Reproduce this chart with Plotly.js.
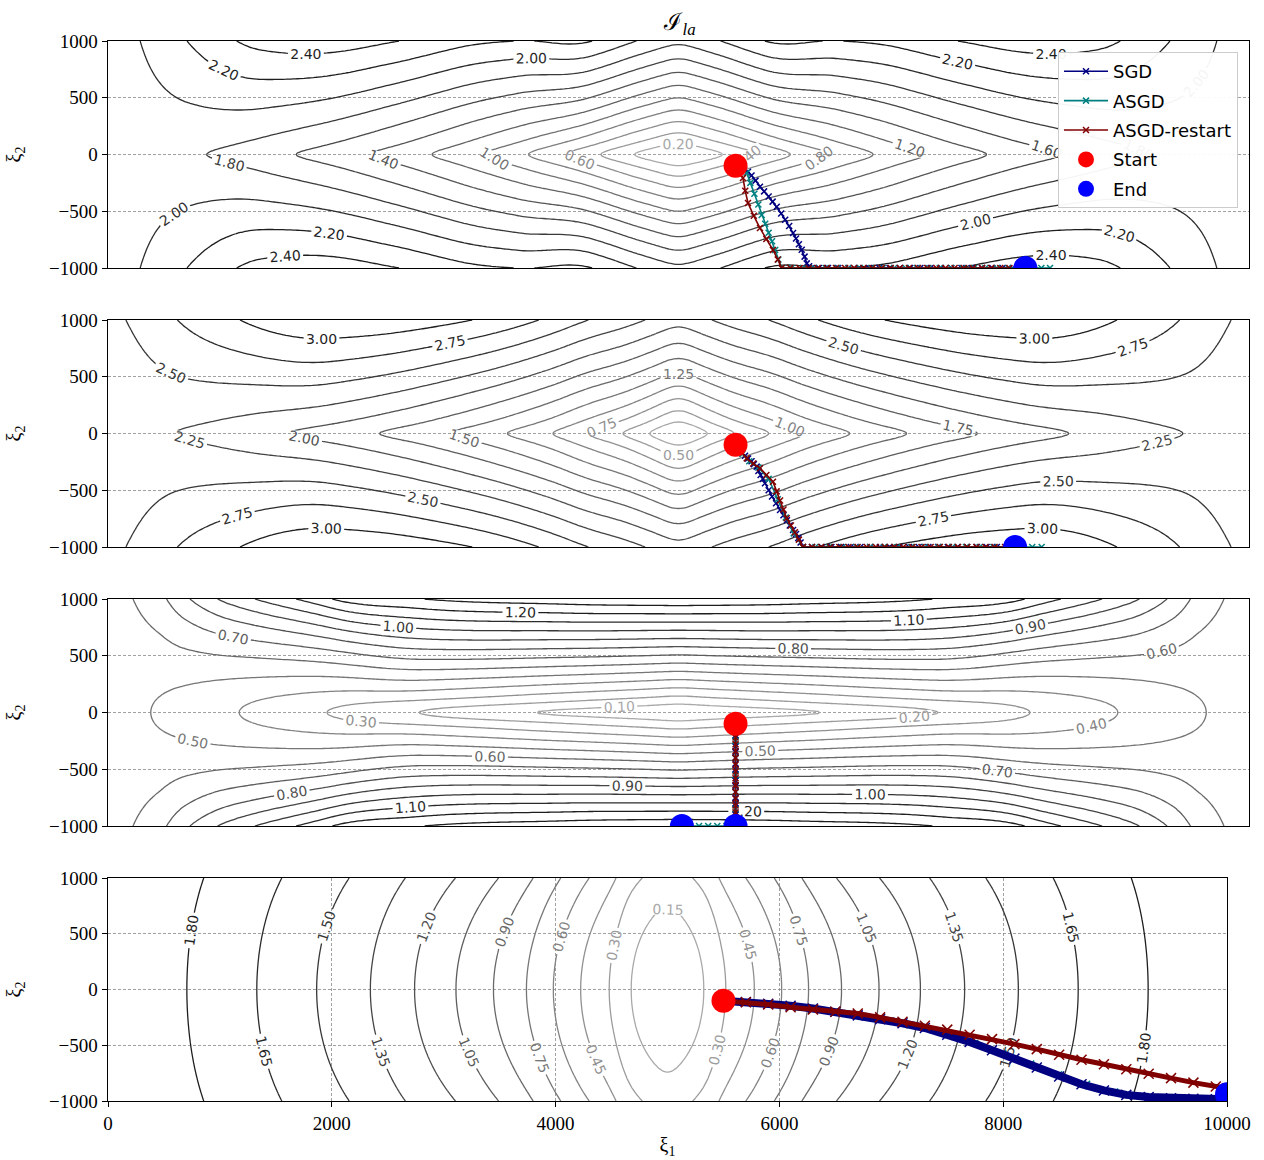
<!DOCTYPE html>
<html>
<head>
<meta charset="utf-8">
<script src="https://cdn.plot.ly/plotly-3.0.1.min.js"></script>
<style>
  html, body { margin: 0; padding: 0; background: #ffffff; }
  #chart { width: 1264px; height: 1160px; }
</style>
</head>
<body>
<div id="chart"></div>
<script>
// ---------------------------------------------------------------------------
// Loss-surface profiles (u = |xi1 - 5000| / 5000, v = |xi2| / 1000)
// ---------------------------------------------------------------------------

// Panel 1: level along xi2 = 0, and slope / curvature across xi2
const p1U  = [0, 0.076, 0.136, 0.196, 0.263, 0.341, 0.432, 0.54, 0.67, 0.827, 1];
const p1A  = [0, 0.2, 0.4, 0.6, 0.8, 1.0, 1.2, 1.4, 1.6, 1.8, 1.93];
const p1SU = [0, 0.15, 0.28, 0.38, 0.5, 0.6, 0.73, 0.855, 0.956, 1];
const p1B  = [2.16, 2.0, 1.45, 1.2, 1.08, 1.0, 0.78, 0.39, 0.08, 0];
const p1C  = [0.31, 0.25, 0.1, 0.03, 0, 0, 0, 0, 0, 0];

// Panel 2
const p2U  = [0, 0.047, 0.097, 0.158, 0.22, 0.30, 0.40, 0.524, 0.684, 0.884, 1];
const p2A  = [0, 0.25, 0.5, 0.75, 1.0, 1.25, 1.5, 1.75, 2.0, 2.25, 2.35];
const p2SU = [0, 0.1, 0.2, 0.35, 0.5, 0.61, 0.75, 0.88, 0.96, 1];
const p2B  = [2.6, 2.2, 1.85, 1.65, 1.55, 1.45, 0.95, 0.5, 0.2, 0.1];
const p2C  = [0.5, 0.35, 0.15, 0.05, 0.1, 0.15, 0, 0, 0, 0];

// Panel 3
const p3U  = [0, 0.25, 0.455, 0.616, 0.77, 0.925, 1];
const p3A  = [0, 0.1, 0.2, 0.3, 0.4, 0.5, 0.54];
const p3SU = [0, 0.2, 0.45, 0.605, 0.68, 0.78, 0.868, 0.914, 1];
const p3B  = [1.38, 1.28, 1.05, 0.55, 0.4, 0.25, 0.15, 0.1, 0];
const p3D  = [0, 0, 0.05, 0.36, 0.345, 0.29, 0.16, 0.07, 0];

// Panel 4
const p4U  = [0, 0.06, 0.103, 0.155, 0.204, 0.252, 0.311, 0.378, 0.452, 0.531, 0.627, 0.734, 0.859, 1];
const p4A  = [0.04, 0.15, 0.30, 0.45, 0.60, 0.75, 0.90, 1.05, 1.20, 1.35, 1.50, 1.65, 1.80, 1.92];
const p4SU = [0, 0.2, 0.56, 0.69, 0.84, 1];
const p4C  = [0.2, 0.19, 0.09, 0.06, 0.03, 0];

// Contour levels [start, end, step]
const levels1 = [0.2, 2.4, 0.2];
const levels2 = [0.25, 3.0, 0.25];
const levels3 = [0.1, 1.3, 0.1];
const levels4 = [0.15, 1.8, 0.15];

// ---------------------------------------------------------------------------
// Optimiser iterates (xi1, xi2)
// ---------------------------------------------------------------------------
const startX = [5500];
const startY = [-100];

// Panel 1
const p1SgdX = [5500,5540,5575,5609,5640,5675,5714,5750,5790,5825,5861,5900,5935,5970,6004,6030,6055,6080,6105,6124,6145,6167,
                6230,6310,6400,6490,6580,6670,6760,6850,6940,7030,7120,7210,7300,7390,7480,7570,7660,7750,7840,7930,8040];
const p1SgdY = [-100,-120,-135,-152,-185,-230,-284,-325,-370,-415,-460,-520,-575,-630,-692,-740,-790,-840,-900,-959,-985,-1000,
                -1000,-1000,-1000,-1000,-1000,-1000,-1000,-1000,-1000,-1000,-1000,-1000,-1000,-1000,-1000,-1000,-1000,-1000,-1000,-1000,-1000];
const p1AsgdX = [5500,5545,5598,5630,5665,5700,5729,5760,5790,5820,5847,5875,5904,
                 5990,6090,6190,6290,6390,6490,6590,6690,6790,6890,6990,7090,7190,7290,7390,7490,7590,7690,7790,7890,7990,8090,8180,8256];
const p1AsgdY = [-100,-130,-163,-250,-345,-440,-533,-610,-690,-765,-841,-925,-1000,
                 -1000,-1000,-1000,-1000,-1000,-1000,-1000,-1000,-1000,-1000,-1000,-1000,-1000,-1000,-1000,-1000,-1000,-1000,-1000,-1000,-1000,-1000,-1000,-1000];
const p1RstX = [5500,5530,5565,5585,5609,5660,5714,5770,5828,5870,5904,
                5980,6060,6140,6220,6300,6380,6460,6540,6620,6700,6780,6860,6940,7020,7100,7180,7260,7340,7420,7500,7580,7660,7740,7820,7900];
const p1RstY = [-100,-150,-207,-320,-427,-540,-648,-745,-841,-925,-1000,
                -1000,-1000,-1000,-1000,-1000,-1000,-1000,-1000,-1000,-1000,-1000,-1000,-1000,-1000,-1000,-1000,-1000,-1000,-1000,-1000,-1000,-1000,-1000,-1000,-1000];
const p1EndX = [8040];
const p1EndY = [-1000];

// Panel 2
const p2SgdX = [5500,5540,5583,5610,5640,5660,5685,5700,5720,5740,5758,5790,5820,5855,5890,5920,5950,5975,6004,6030,6050,6070,6091,
                6170,6255,6340,6425,6510,6595,6680,6765,6850,6935,7020,7105,7190,7275,7360,7445,7530,7615,7700,7790,7876];
const p2SgdY = [-100,-150,-196,-220,-245,-270,-292,-330,-365,-400,-439,-500,-555,-615,-674,-720,-765,-810,-850,-885,-920,-960,-1000,
                -1000,-1000,-1000,-1000,-1000,-1000,-1000,-1000,-1000,-1000,-1000,-1000,-1000,-1000,-1000,-1000,-1000,-1000,-1000,-1000,-1000];
const p2AsgdX = [5500,5560,5620,5700,5790,5870,5940,6010,6091,
                 6200,6320,6440,6560,6680,6800,6920,7040,7160,7280,7400,7520,7640,7760,7880,8000,8100,8183];
const p2AsgdY = [-100,-180,-245,-300,-400,-580,-740,-880,-1000,
                 -1000,-1000,-1000,-1000,-1000,-1000,-1000,-1000,-1000,-1000,-1000,-1000,-1000,-1000,-1000,-1000,-1000,-1000];
const p2RstX = [5500,5550,5598,5655,5714,5770,5828,5860,5890,5920,5948,5985,6020,6055,6091,
                6170,6250,6330,6410,6490,6570,6650,6730,6810,6890,6970,7050,7130,7210,7290,7370,7450,7530,7610,7690,7770,7862];
const p2RstY = [-100,-165,-219,-265,-307,-365,-425,-510,-590,-670,-747,-810,-870,-935,-1000,
                -1000,-1000,-1000,-1000,-1000,-1000,-1000,-1000,-1000,-1000,-1000,-1000,-1000,-1000,-1000,-1000,-1000,-1000,-1000,-1000,-1000,-1000];
const p2EndX = [7950];
const p2EndY = [-1000];

// Panel 3
const p3SgdX = [5500,5500,5500,5500,5500,5500,5500,5500,5500,5500,5500,5500,5500,5500,5500,5500,5500,5500,5500];
const p3SgdY = [-100,-150,-200,-250,-300,-350,-400,-450,-500,-550,-600,-650,-700,-750,-800,-850,-900,-950,-1000];
const p3AsgdX = [5500,5500,5500,5500,5500,5500,5500,5420,5340,5260,5180,5100,5030];
const p3AsgdY = [-100,-250,-400,-550,-700,-850,-1000,-1000,-1000,-1000,-1000,-1000,-1000];
const p3RstX = [5500,5500,5500,5500,5500,5500,5500,5500,5500,5500,5500,5500,5500,5500,5500,5500];
const p3RstY = [-100,-160,-220,-280,-340,-400,-460,-520,-580,-640,-700,-760,-820,-880,-940,-1000];
const p3EndX = [5030, 5500];
const p3EndY = [-1000, -1000];

// Panel 4
const p4SgdX = [5500,5700,5900,6100,6300,6500,6700,6900,7100,7300,7500,7700,7900,8100,8300,8500,8700,8900,9100,9300,9500,9700,9900,10000];
const p4SgdY = [-100,-112,-128,-146,-170,-200,-232,-266,-303,-345,-405,-470,-545,-620,-700,-780,-850,-905,-945,-965,-975,-980,-985,-985];
const p4AsgdX = [5500,5750,6000,6250,6500,6750,7000,7250,7500,7750,8000,8250,8500,8750,9000,9250,9500,9750,10000];
const p4AsgdY = [-100,-116,-135,-162,-198,-236,-278,-322,-396,-480,-570,-665,-760,-845,-915,-955,-972,-980,-985];
const p4RstX = [5500,5700,5900,6100,6300,6500,6700,6900,7100,7300,7500,7700,7900,8100,8300,8500,8700,8900,9100,9300,9500,9700,9900,10000];
const p4RstY = [-100,-115,-135,-160,-180,-200,-215,-250,-290,-325,-360,-405,-445,-490,-535,-585,-630,-670,-715,-755,-795,-835,-870,-885];
const p4EndX = [10000];
const p4EndY = [-940];

// ---------------------------------------------------------------------------
// Helpers
// ---------------------------------------------------------------------------
function pchip(xs, ys) {
  const n = xs.length, h = [], d = [], m = new Array(n);
  for (let i = 0; i < n - 1; i++) { h[i] = xs[i + 1] - xs[i]; d[i] = (ys[i + 1] - ys[i]) / h[i]; }
  m[0] = d[0]; m[n - 1] = d[n - 2];
  for (let i = 1; i < n - 1; i++) {
    if (d[i - 1] * d[i] <= 0) { m[i] = 0; }
    else {
      const w1 = 2 * h[i] + h[i - 1], w2 = h[i] + 2 * h[i - 1];
      m[i] = (w1 + w2) / (w1 / d[i - 1] + w2 / d[i]);
    }
  }
  return function (x) {
    if (x <= xs[0]) return ys[0];
    if (x >= xs[n - 1]) return ys[n - 1];
    let i = 0;
    while (x > xs[i + 1]) i++;
    const t = (x - xs[i]) / h[i], t2 = t * t, t3 = t2 * t;
    return (2 * t3 - 3 * t2 + 1) * ys[i] + (t3 - 2 * t2 + t) * h[i] * m[i] +
           (-2 * t3 + 3 * t2) * ys[i + 1] + (t3 - t2) * h[i] * m[i + 1];
  };
}
// |t| with a rounded bottom of half-width e
function smoothAbs(t, e) { const a = Math.abs(t); return a * Math.tanh(a / e); }

const gridX = [], gridY = [];
for (let i = 0; i <= 250; i++) gridX.push(i * 40);
for (let j = 0; j <= 125; j++) gridY.push(-1000 + j * 16);

// ev may depend on the distance from the centre column
function surface(fn, eu, ev) {
  return gridY.map(y => gridX.map(x => {
    const ua = Math.abs((x - 5000) / 5000);
    const e = (typeof ev === 'function') ? ev(ua) : ev;
    return fn(smoothAbs(ua, eu), smoothAbs(y / 1000, e));
  }));
}

const f1A = pchip(p1U, p1A), f1B = pchip(p1SU, p1B), f1C = pchip(p1SU, p1C);
const f2A = pchip(p2U, p2A), f2B = pchip(p2SU, p2B), f2C = pchip(p2SU, p2C);
const f3A = pchip(p3U, p3A), f3B = pchip(p3SU, p3B), f3D = pchip(p3SU, p3D);
const f4A = pchip(p4U, p4A), f4C = pchip(p4SU, p4C);

const z1 = surface((u, v) => f1A(u) + f1B(u) * v - f1C(u) * v * v, 0.03, 0.05);
const z2 = surface((u, v) => f2A(u) + f2B(u) * v - f2C(u) * v * v, 0.03, 0.05);
const z3 = surface((u, v) => f3A(u) + f3B(u) * v + f3D(u) * v * v, 0.03, ua => 0.03 + 0.22 * ua * ua);
const z4 = surface((u, v) => f4A(u) + f4C(u) * v * v, 0.04, 0.05);

const GRAYS = [[0, '#a9a9a9'], [0.45, '#6a6a6a'], [1, '#1e1e1e']];
function contourTrace(z, lv, ax) {
  return {
    type: 'contour', x: gridX, y: gridY, z: z,
    xaxis: 'x' + ax, yaxis: 'y' + ax,
    autocontour: false, showscale: false, hoverinfo: 'skip',
    zauto: false, zmin: lv[0], zmax: lv[1],
    colorscale: GRAYS,
    contours: {
      start: lv[0], end: lv[1] + 1e-6, size: lv[2], coloring: 'lines',
      showlabels: true, labelformat: '.2f',
      labelfont: { family: 'DejaVu Sans', size: 14 }
    },
    line: { width: 1.3, smoothing: 1 }
  };
}

const C_SGD = '#000080', C_ASGD = '#008080', C_RST = '#800000';
function pathTrace(x, y, color, name, ax, legend, lw, ms) {
  return {
    type: 'scatter', mode: 'lines+markers', x: x, y: y, name: name,
    xaxis: 'x' + ax, yaxis: 'y' + ax, showlegend: legend, legendgroup: name,
    line: { color: color, width: lw || 1.6 },
    marker: { symbol: 'x-thin', size: ms || 6, color: color, line: { color: color, width: 1.5 } },
    hoverinfo: 'skip'
  };
}
function dotTrace(x, y, color, name, ax, legend) {
  return {
    type: 'scatter', mode: 'markers', x: x, y: y, name: name,
    xaxis: 'x' + ax, yaxis: 'y' + ax, showlegend: legend, legendgroup: name,
    marker: { size: 24, color: color }, hoverinfo: 'skip'
  };
}

const traces = [
  contourTrace(z1, levels1, ''),
  contourTrace(z2, levels2, '2'),
  contourTrace(z3, levels3, '3'),
  contourTrace(z4, levels4, '4'),

  pathTrace(p1SgdX, p1SgdY, C_SGD, 'SGD', '', true),
  pathTrace(p1AsgdX, p1AsgdY, C_ASGD, 'ASGD', '', true),
  pathTrace(p1RstX, p1RstY, C_RST, 'ASGD-restart', '', true),
  dotTrace(startX, startY, '#ff0000', 'Start', '', true),
  dotTrace(p1EndX, p1EndY, '#0000ff', 'End', '', true),

  pathTrace(p2SgdX, p2SgdY, C_SGD, 'SGD', '2', false),
  pathTrace(p2AsgdX, p2AsgdY, C_ASGD, 'ASGD', '2', false),
  pathTrace(p2RstX, p2RstY, C_RST, 'ASGD-restart', '2', false),
  dotTrace(startX, startY, '#ff0000', 'Start', '2', false),
  dotTrace(p2EndX, p2EndY, '#0000ff', 'End', '2', false),

  pathTrace(p3SgdX, p3SgdY, C_SGD, 'SGD', '3', false),
  pathTrace(p3AsgdX, p3AsgdY, C_ASGD, 'ASGD', '3', false),
  pathTrace(p3RstX, p3RstY, C_RST, 'ASGD-restart', '3', false),
  dotTrace(startX, startY, '#ff0000', 'Start', '3', false),
  dotTrace(p3EndX, p3EndY, '#0000ff', 'End', '3', false),

  // in the last panel the ASGD path runs underneath the SGD band
  pathTrace(p4AsgdX, p4AsgdY, C_ASGD, 'ASGD', '4', false, 2, 6),
  pathTrace(p4SgdX, p4SgdY, C_SGD, 'SGD', '4', false, 8, 10),
  pathTrace(p4RstX, p4RstY, C_RST, 'ASGD-restart', '4', false, 5, 10),
  dotTrace(startX, startY, '#ff0000', 'Start', '4', false),
  dotTrace(p4EndX, p4EndY, '#0000ff', 'End', '4', false)
];

// ---------------------------------------------------------------------------
// Layout
// ---------------------------------------------------------------------------
const W = 1264, H = 1160;
const SERIF = 'Liberation Serif, DejaVu Serif, serif';
const tickFont = { family: SERIF, size: 19, color: '#000' };
const ySpans = [[41, 268], [320, 547], [599, 826], [878, 1101]];

function yAxis(span, anchor) {
  return {
    domain: [1 - span[1] / H, 1 - span[0] / H], anchor: anchor,
    range: [-1000, 1000], tickvals: [-1000, -500, 0, 500, 1000],
    ticks: 'outside', ticklen: 5, tickwidth: 1, tickcolor: '#000',
    tickfont: tickFont, showline: true, mirror: true, linecolor: '#000', linewidth: 1.4,
    showgrid: true, gridcolor: '#8a8a8a', gridwidth: 0.8, griddash: '3px,2px', zeroline: false,
    title: { text: 'ξ<sub>2</sub>', font: { family: SERIF, size: 20, color: '#000' }, standoff: 22 }
  };
}
function xAxis(right, anchor, labelled) {
  const ax = {
    domain: [108 / W, right / W], anchor: anchor, range: [0, 10000],
    showline: true, mirror: true, linecolor: '#000', linewidth: 1.4, zeroline: false,
    showticklabels: labelled, ticks: labelled ? 'outside' : '', showgrid: labelled
  };
  if (labelled) {
    Object.assign(ax, {
      tickvals: [0, 2000, 4000, 6000, 8000, 10000], tickformat: 'd',
      ticklen: 5, tickcolor: '#000', tickfont: tickFont,
      gridcolor: '#8a8a8a', gridwidth: 0.8, griddash: '3px,2px',
      title: { text: 'ξ<sub>1</sub>', font: { family: SERIF, size: 20, color: '#000' }, standoff: 4 }
    });
  }
  return ax;
}

const layout = {
  width: W, height: H,
  margin: { l: 0, r: 0, t: 0, b: 0 },
  paper_bgcolor: '#ffffff', plot_bgcolor: '#ffffff',
  hovermode: false,
  title: {
    text: 'ℐ<sub><i>la</i></sub>',
    x: 680 / W, xanchor: 'center', y: 1 - 22 / H, yanchor: 'middle',
    font: { family: SERIF, size: 24, color: '#000' }
  },
  xaxis:  xAxis(1249, 'y', false),
  xaxis2: xAxis(1249, 'y2', false),
  xaxis3: xAxis(1249, 'y3', false),
  xaxis4: xAxis(1227, 'y4', true),
  yaxis:  yAxis(ySpans[0], 'x'),
  yaxis2: yAxis(ySpans[1], 'x2'),
  yaxis3: yAxis(ySpans[2], 'x3'),
  yaxis4: yAxis(ySpans[3], 'x4'),
  showlegend: true,
  legend: {
    x: 1238 / W, xanchor: 'right', y: 1 - 52 / H, yanchor: 'top',
    bgcolor: 'rgba(255,255,255,0.95)', bordercolor: '#cccccc', borderwidth: 1,
    font: { family: 'DejaVu Sans', size: 18, color: '#000' },
    tracegroupgap: 3, itemwidth: 44
  }
};

Plotly.newPlot('chart', traces, layout, { displayModeBar: false, staticPlot: true });
</script>
</body>
</html>
